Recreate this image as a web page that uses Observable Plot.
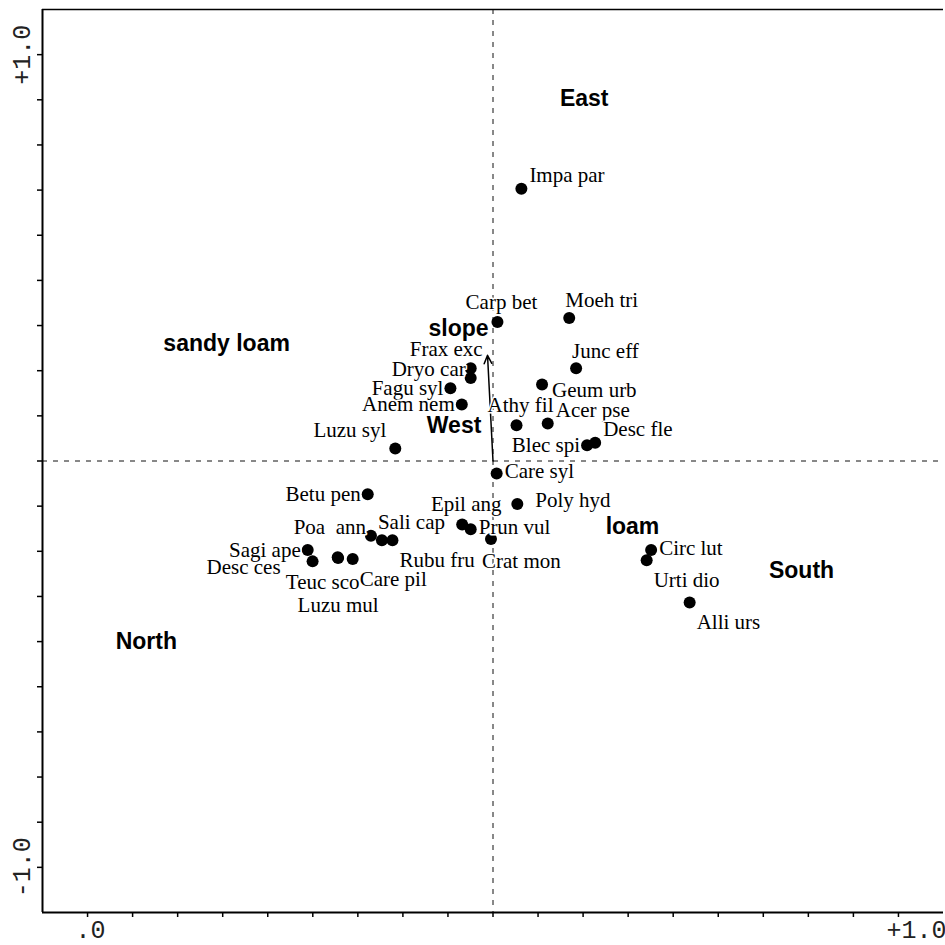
<!DOCTYPE html>
<html>
<head>
<meta charset="utf-8">
<script src="https://cdn.jsdelivr.net/npm/d3@7"></script>
<script src="https://cdn.jsdelivr.net/npm/@observablehq/plot@0.6"></script>
<style>
  html, body { margin: 0; padding: 0; background: #fff; }
  #chart svg { display: block; }
</style>
</head>
<body>
<div id="chart"></div>
<script>
// ---- species scores (axis 1, axis 2) ----
const species = ["Impa par","Carp bet","Moeh tri","Junc eff","Frax exc","Dryo car","Fagu syl","Anem nem",
  "Luzu syl","Athy fil","Geum urb","Acer pse","Blec spi","Desc fle","Care syl","Poly hyd","Epil ang",
  "Prun vul","Crat mon","Poa\u00A0\u00A0ann","Sali cap","Rubu fru","Sagi ape","Desc ces","Teuc sco","Care pil",
  "Luzu mul","Betu pen","Circ lut","Urti dio","Alli urs"];
const spX = [0.070, 0.011, 0.188, 0.205, -0.055, -0.055, -0.105, -0.077,
  -0.241, 0.058, 0.121, 0.135, 0.232, 0.252, 0.009, 0.060, -0.076,
  -0.055, -0.005, -0.301, -0.274, -0.248, -0.457, -0.445, -0.383, -0.346,
  -0.382, -0.309, 0.390, 0.379, 0.485];
const spY = [0.670, 0.342, 0.352, 0.228, 0.228, 0.204, 0.179, 0.139,
  0.031, 0.088, 0.188, 0.092, 0.039, 0.045, -0.031, -0.106, -0.156,
  -0.168, -0.192, -0.184, -0.195, -0.195, -0.219, -0.247, -0.237, -0.241,
  -0.239, -0.082, -0.219, -0.244, -0.348];
// label placement relative to the point (compass-style code)
const spLabelPos = ["NE","N","NR","NR","NL","WU","W","W",
  "NW","N","ES","NE","W","NE","E","E2","N",
  "E","SR","WU","NR","SE","W","W2","SW","SE",
  "S2","W","E","SE","SE"];

// ---- nominal environmental variables (centroids) ----
const envNames = ["East","sandy loam","West","loam","South","North"];
const envX = [0.225, -0.657, -0.096, 0.344, 0.761, -0.855];
const envY = [0.891, 0.290, 0.087, -0.161, -0.270, -0.444];

// ---- quantitative environmental variable (arrow) ----
const arrowNames = ["slope"];
const arrowX = [-0.0135];
const arrowY = [0.260];

// ---- axes ----
const axisLimit = 10 / 9;
const axisTicks = d3.range(-9, 10).map(k => k / 9);
const xTickValues = [-1, 1];
const xTickLabels = [".0", "+1.0"];
const yTickValues = [1, -1];
const yTickLabels = ["+1.0", "-1.0"];

// ---- build tables ----
const spData = species.map((s, i) => ({name: s, x: spX[i], y: spY[i], pos: spLabelPos[i]}));
const envData = envNames.map((s, i) => ({name: s, x: envX[i], y: envY[i]}));
const arrowData = arrowNames.map((s, i) => ({name: s, x: arrowX[i], y: arrowY[i]}));

const labelStyle = {
  N:  {textAnchor: "middle", dx: 4,   dy: -20},
  NE: {textAnchor: "start",  dx: 8,   dy: -13},
  NR: {textAnchor: "start",  dx: -4,  dy: -17.5},
  NL: {textAnchor: "end",    dx: 12,  dy: -19},
  NW: {textAnchor: "end",    dx: -9,  dy: -18},
  E:  {textAnchor: "start",  dx: 8,   dy: -2},
  ES: {textAnchor: "start",  dx: 10,  dy: 6},
  E2: {textAnchor: "start",  dx: 18,  dy: -4},
  W:  {textAnchor: "end",    dx: -7,  dy: 0},
  WU: {textAnchor: "end",    dx: -5,  dy: -8.5},
  W2: {textAnchor: "end",    dx: -32, dy: 6},
  SR: {textAnchor: "start",  dx: -9,  dy: 22},
  SW: {textAnchor: "middle", dx: -15, dy: 25},
  S2: {textAnchor: "middle", dx: 0,   dy: 47},
  SE: {textAnchor: "start",  dx: 7,   dy: 20}
};
const labelOrder = ["N","NE","NR","NL","NW","E","ES","E2","W","WU","W2","SR","SW","S2","SE"];

const serif = "'Liberation Serif', 'Times New Roman', serif";
const sans = "'Liberation Sans', Arial, sans-serif";
const mono = "'Liberation Mono', 'Courier New', monospace";

const speciesLabelMarks = labelOrder.map(code => Plot.text(
  spData.filter(d => d.pos === code),
  {x: "x", y: "y", text: "name", fontFamily: serif, fontSize: 21, fill: "black",
   stroke: "white", strokeWidth: 3, ...labelStyle[code]}
));

const chart = Plot.plot({
  width: 945,
  height: 945,
  marginLeft: 42,
  marginRight: 2,
  marginTop: 9,
  marginBottom: 33,
  x: {domain: [-axisLimit, axisLimit], axis: null},
  y: {domain: [-axisLimit, axisLimit], axis: null},
  style: {background: "white", overflow: "visible"},
  marks: [
    // zero lines
    Plot.ruleX([0], {stroke: "#111", strokeWidth: 1, strokeDasharray: "5,6"}),
    Plot.ruleY([0], {stroke: "#111", strokeWidth: 1, strokeDasharray: "5,6"}),
    // frame lines
    Plot.ruleX([-axisLimit], {stroke: "black", strokeWidth: 2}),
    Plot.ruleY([-axisLimit], {stroke: "black", strokeWidth: 2}),
    Plot.ruleY([axisLimit], {stroke: "black", strokeWidth: 1.5}),
    // ticks
    Plot.axisX(axisTicks, {anchor: "bottom", tickSize: 5, tickFormat: () => "", label: null, strokeWidth: 1.5}),
    Plot.axisY(axisTicks, {anchor: "left", tickSize: 5, tickFormat: () => "", label: null, strokeWidth: 1.5}),
    // tick labels
    Plot.text(xTickValues, {x: d => d, frameAnchor: "bottom", text: (d, i) => xTickLabels[i],
      textAnchor: "start", dx: -12, dy: 25, fontFamily: mono, fontSize: 25, fill: "#222"}),
    Plot.text(yTickValues, {y: d => d, frameAnchor: "left", text: (d, i) => yTickLabels[i],
      rotate: -90, textAnchor: "middle", dx: -21, fontFamily: mono, fontSize: 25, fill: "#222"}),
    // slope arrow
    Plot.arrow(arrowData, {x1: d => 0, y1: d => 0, x2: "x", y2: "y", stroke: "black",
      strokeWidth: 1.5, headLength: 9, headAngle: 50}),
    Plot.text(arrowData, {x: "x", y: "y", text: "name", textAnchor: "end", dx: 1, dy: -27,
      fontFamily: sans, fontWeight: "bold", fontSize: 23, fill: "black", stroke: "white", strokeWidth: 3}),
    // nominal variable centroids
    Plot.text(envData, {x: "x", y: "y", text: "name", fontFamily: sans, fontWeight: "bold",
      fontSize: 23, fill: "black", stroke: "white", strokeWidth: 3}),
    // species points
    Plot.dot(spData, {x: "x", y: "y", r: 6, fill: "black", stroke: "none"}),
    // species labels
    ...speciesLabelMarks
  ]
});

document.getElementById("chart").appendChild(chart);
</script>
</body>
</html>
